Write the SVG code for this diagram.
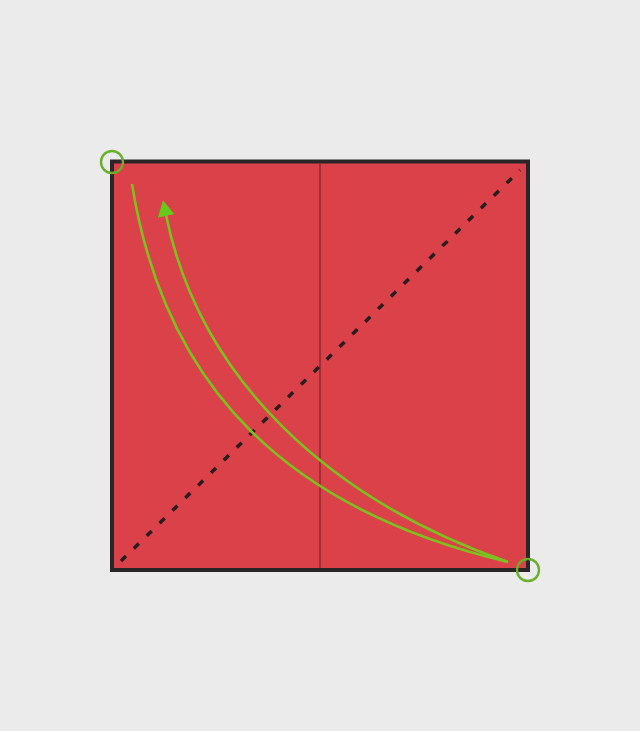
<svg xmlns="http://www.w3.org/2000/svg" width="640" height="731" viewBox="0 0 640 731">
  <style>
    .paper { fill: #da4148; stroke: #2a2526; stroke-width: 4; }
    .crease { stroke: #962830; stroke-width: 1.6; fill: none; }
    .valley { stroke: #2a1c1e; stroke-width: 3.5; stroke-dasharray: 7 11; fill: none; }
    .move { stroke: #7cc21e; stroke-width: 2.6; fill: none; }
    .pt { stroke: #6aae2a; stroke-width: 2.4; fill: none; }
  </style>
  <defs>
    <marker id="ah" markerUnits="userSpaceOnUse" markerWidth="16" markerHeight="17" viewBox="0 0 16 17" refX="1" refY="8.5" orient="auto">
      <path d="M0,0 L16,8.5 L0,17 z" fill="#66c81a"/>
    </marker>
  </defs>
  <rect width="640" height="731" fill="#ebebeb"/>
  <g id="paper">
    <rect class="paper" x="112" y="161.5" width="416" height="408.5"/>
  </g>
  <g id="connectors">
    <line id="center-crease" class="crease" x1="320" y1="163" x2="320" y2="568"/>
    <line id="diagonal" class="valley" x1="121" y1="561" x2="520" y2="170"/>
    <path id="outer-curve" class="move" d="M132,184 C165,390 290,510 508,562"/>
    <path id="fold-arrow" class="move" d="M508,562 C330,500 200,380 166,215" marker-end="url(#ah)"/>
  </g>
  <g id="corner-tl">
    <circle class="pt" cx="112" cy="162" r="11"/>
  </g>
  <g id="corner-br">
    <circle class="pt" cx="528" cy="570" r="11"/>
  </g>
</svg>
